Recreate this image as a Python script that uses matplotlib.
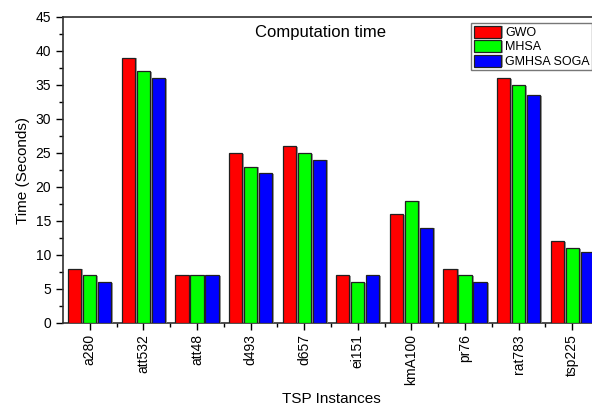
import matplotlib
matplotlib.use("Agg")
import matplotlib.pyplot as plt
import matplotlib.patheffects as pe
from matplotlib.ticker import MultipleLocator, FixedLocator
import numpy as np

plt.rcParams['font.family'] = ['Liberation Sans', 'DejaVu Sans']

instances = ['a280', 'att532', 'att48', 'd493', 'd657', 'ei151', 'kmA100', 'pr76', 'rat783', 'tsp225']
gwo = [8, 39, 7, 25, 26, 7, 16, 8, 36, 12]
mhsa = [7, 37, 7, 23, 25, 6, 18, 7, 35, 11]
gmhsa_soga = [6, 36, 7, 22, 24, 7, 14, 6, 33.5, 10.5]

series = [("GWO", gwo, "#ff0000"), ("MHSA", mhsa, "#00ff00"), ("GMHSA SOGA", gmhsa_soga, "#0000ff")]

fig = plt.figure(figsize=(5.92, 4.05), dpi=100)
ax = fig.add_axes([63 / 592, 1 - 323 / 405, 536 / 592, 306 / 405])

x = np.arange(len(instances))
w = 0.245
step = 0.28
shadow = [pe.SimplePatchShadow(offset=(1.5, -0.5), shadow_rgbFace='#888888', alpha=0.8), pe.Normal()]
for i, (name, vals, col) in enumerate(series):
    ax.bar(x + (i - 1) * step, vals, width=w, color=col, edgecolor='#202020', linewidth=0.9,
           label=name, path_effects=shadow, zorder=3)

ax.set_xlim(-0.5, len(instances) - 0.5)
ax.set_ylim(0, 45)
ax.yaxis.set_major_locator(MultipleLocator(5))
ax.yaxis.set_minor_locator(MultipleLocator(2.5))
ax.set_xticks(x)
ax.set_xticklabels(instances, rotation=90, fontsize=10)
ax.xaxis.set_minor_locator(FixedLocator(x[:-1] + 0.5))
ax.tick_params(axis='y', which='major', direction='out', length=5, width=1, labelsize=10)
ax.tick_params(axis='y', which='minor', direction='out', length=3, width=1)
ax.tick_params(axis='x', which='major', direction='out', length=5, width=1, pad=3)
ax.tick_params(axis='x', which='minor', direction='out', length=3, width=1)
ax.tick_params(right=False, top=False)
for s in ['left', 'bottom', 'top']:
    ax.spines[s].set_linewidth(1.2)
    ax.spines[s].set_color('#303030')
ax.spines['right'].set_visible(False)

ax.set_ylabel("Time (Seconds)", fontsize=11)
ax.set_xlabel("TSP Instances", fontsize=11, labelpad=5)
ax.text(0.48, 0.95, "Computation time", transform=ax.transAxes, ha='center', va='center', fontsize=12)

leg = ax.legend(loc='upper right', bbox_to_anchor=(529 / 536, 1 - 6 / 306), fontsize=9, frameon=True,
                fancybox=False, borderpad=0.2, labelspacing=0.1, handlelength=2.2, handleheight=1.1,
                handletextpad=0.3, borderaxespad=0)
leg.get_frame().set_edgecolor('#555555')
leg.get_frame().set_linewidth(1)

fig.savefig("out.png", dpi=100)
